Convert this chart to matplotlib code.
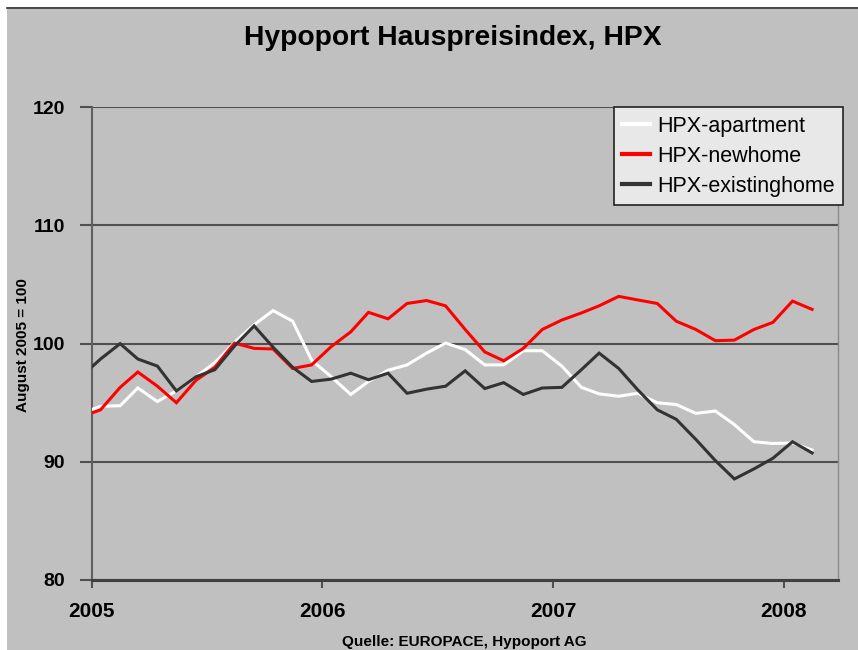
import numpy as np
import pandas as pd
import matplotlib
matplotlib.use("Agg")
import matplotlib.pyplot as plt
from matplotlib.patches import Rectangle
from matplotlib.lines import Line2D

plt.rcParams['font.family'] = ['Liberation Sans', 'DejaVu Sans']

# monthly observations (mid-month), Dec 2004 .. Feb 2008
dates = pd.date_range('2004-12-01', '2008-02-01', freq='MS') + pd.Timedelta(days=14)

apartment = [94.1, 94.7, 94.75, 96.25, 95.1, 96.0, 97.2, 98.4, 100.1, 101.6,
             102.8, 101.9, 98.6, 97.2, 95.7, 96.8, 97.75, 98.2, 99.2, 100.05,
             99.5, 98.2, 98.2, 99.4, 99.4, 98.1, 96.3, 95.75, 95.55, 95.8,
             95.0, 94.85, 94.1, 94.3, 93.15, 91.7, 91.55, 91.6, 91.0]
newhome = [93.8, 94.4, 96.3, 97.6, 96.4, 95.0, 96.9, 98.0, 100.05, 99.6,
           99.55, 97.9, 98.2, 99.75, 101.0, 102.65, 102.1, 103.4, 103.65, 103.2,
           101.2, 99.3, 98.55, 99.6, 101.2, 102.0, 102.6, 103.2, 104.0, 103.7,
           103.4, 101.9, 101.2, 100.25, 100.3, 101.2, 101.8, 103.6, 102.9]
existinghome = [97.2, 98.7, 100.0, 98.7, 98.1, 96.0, 97.2, 97.8, 99.8, 101.5,
                99.7, 98.0, 96.8, 97.0, 97.5, 96.95, 97.5, 95.8, 96.15, 96.4,
                97.7, 96.2, 96.7, 95.7, 96.25, 96.3, 97.8, 99.2, 97.9, 96.1,
                94.4, 93.6, 91.9, 90.1, 88.55, 89.4, 90.3, 91.7, 90.75]

series_names = ['HPX-apartment', 'HPX-newhome', 'HPX-existinghome']
series_colors = ['#ffffff', '#ff0000', '#333333']
year_labels = ['2005', '2006', '2007', '2008']
y_ticks = [80, 90, 100, 110, 120]

W, H = 858, 650
fig = plt.figure(figsize=(W / 100, H / 100), dpi=100, facecolor='#c0c0c0')

# white margins + dark top line of the original frame
fig.patches.append(Rectangle((0, 1 - 7 / H), 1, 7 / H, transform=fig.transFigure,
                             facecolor='white', edgecolor='none', zorder=0))
fig.patches.append(Rectangle((0, 0), 7 / W, 1, transform=fig.transFigure,
                             facecolor='white', edgecolor='none', zorder=0))
fig.lines.append(Line2D([7 / W, 1], [1 - 8 / H, 1 - 8 / H], transform=fig.transFigure,
                        color='#333333', lw=1.2))

ax = fig.add_axes([91.7 / W, 1 - 580 / H, (838 - 91.7) / W, (580 - 107.3) / H])
ax.set_facecolor('#c0c0c0')

for vals, name, col in zip([apartment, newhome, existinghome], series_names, series_colors):
    ax.plot(dates, vals, color=col, lw=2.2, label=name, solid_joinstyle='miter', zorder=3)

ax.set_xlim(pd.Timestamp('2005-01-01'), pd.Timestamp('2008-03-27'))
ax.set_ylim(80, 120)
ax.set_yticks(y_ticks)
ax.set_yticklabels([str(v) for v in y_ticks])
ax.set_xticks([pd.Timestamp(f'{y}-01-01') for y in year_labels])
ax.set_xticklabels(year_labels)

ax.yaxis.grid(True, color='#505050', lw=1.5)
ax.set_axisbelow(True)

ax.spines['top'].set_visible(False)
ax.spines['left'].set_color('#606060')
ax.spines['left'].set_linewidth(1.5)
ax.spines['bottom'].set_color('#404040')
ax.spines['bottom'].set_linewidth(2.2)
ax.spines['right'].set_color('#8a8a8a')
ax.spines['right'].set_linewidth(1.0)

ax.tick_params(axis='y', direction='out', length=9, width=1.5, color='#505050',
               labelsize=14, pad=10)
ax.tick_params(axis='x', direction='out', length=6, width=1.5, color='#505050',
               labelsize=15, pad=10)
for lab in ax.get_xticklabels() + ax.get_yticklabels():
    lab.set_fontweight('bold')

leg = fig.legend(loc='upper right', bbox_to_anchor=(843 / W, 1 - 107 / H),
                 bbox_transform=fig.transFigure, borderaxespad=0,
                 fontsize=15.5, handlelength=1.3, handletextpad=0.3,
                 labelspacing=0.42, borderpad=0.4, fancybox=False,
                 frameon=True, framealpha=1)
leg.get_frame().set_facecolor('#e8e8e8')
leg.get_frame().set_edgecolor('#222222')
leg.get_frame().set_linewidth(1.2)
for ln in leg.get_lines():
    ln.set_linewidth(3)

fig.text(453 / W, 1 - 38 / H, 'Hypoport Hauspreisindex, HPX', ha='center', va='center',
         fontsize=20.3, fontweight='bold')
fig.text(23 / W, 1 - 345 / H, 'August 2005 = 100', rotation=90, ha='center', va='center',
         fontsize=11, fontweight='bold')
fig.text(464 / W, 1 - 642 / H, 'Quelle: EUROPACE, Hypoport AG', ha='center', va='center',
         fontsize=11, fontweight='bold')

fig.savefig('out.png', dpi=100, facecolor=fig.get_facecolor())
